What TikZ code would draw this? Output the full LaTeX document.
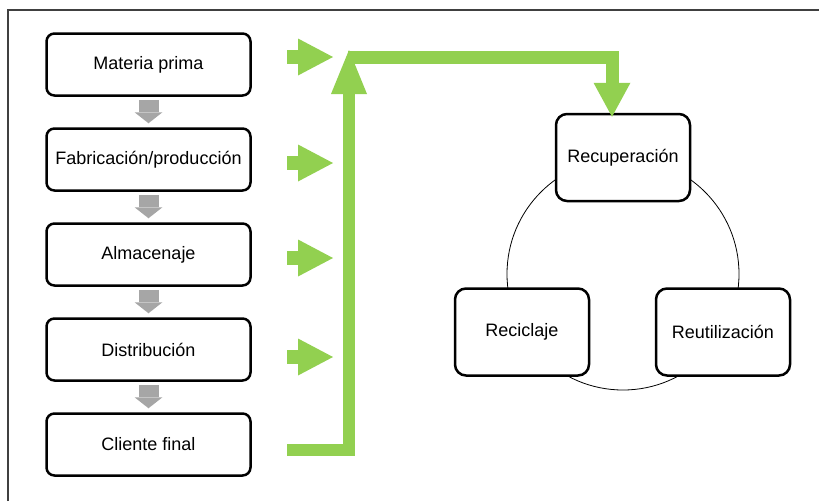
\documentclass[tikz,border=0pt]{standalone}
\usepackage{fontspec}
\setmainfont{Liberation Sans}
\usepackage{tikz}
\usetikzlibrary{positioning}
\usetikzlibrary{arrows.meta}

\definecolor{leafgreen}{HTML}{92D050}
\definecolor{stepgray}{HTML}{A6A6A6}
\definecolor{framegray}{HTML}{404040}

\tikzset{
  stage/.style={align=center,draw,fill=white,line width=2.5pt,rounded corners=8pt,minimum height=62pt,minimum width=204pt,font=\fontsize{18}{20}\selectfont},
  loopbox/.style={stage,rounded corners=11pt,minimum height=87pt,minimum width=134pt},
  downstep/.style={stepgray,line width=20pt,shorten <=3pt,shorten >=4pt,-{Triangle[length=11pt,width=28pt,line width=0pt]}},
  feedarrow/.style={leafgreen,line width=14pt,-{Triangle[length=35pt,width=37pt,line width=0pt]}},
  flowline/.style={leafgreen,line width=12pt,-{Triangle[length=44pt,width=36pt,line width=0pt]}}
}

\begin{document}
\begin{tikzpicture}[x=1pt,y=-1pt]
  \useasboundingbox (0,0) rectangle (819,501);
  \draw[framegray,line width=1.8pt] (8,501) |- (819,10);

  % ciclo
  \draw[line width=0.8pt] (623,274) circle[radius=116pt];

  \node at (148.5,64.5) [stage] (materia) {Materia prima};
  \node at (148.5,159.5) [stage] (fabrica) {Fabricación/producción};
  \node at (148.5,254.5) [stage] (almacen) {Almacenaje};
  \node at (148.5,349.5) [stage] (distrib) {Distribución};
  \node at (148.5,444.5) [stage] (cliente) {Cliente final};

  \node at (623,157.5) [loopbox] (recupera) {Recuperación};
  \node at (522,332) [loopbox] (recicla) {Reciclaje};
  \node at (723,332) [loopbox] (reutiliza) {Reutilización};

  \draw[downstep] (materia.south) -- (fabrica.north);
  \draw[downstep] (fabrica.south) -- (almacen.north);
  \draw[downstep] (almacen.south) -- (distrib.north);
  \draw[downstep] (distrib.south) -- (cliente.north);

  \coordinate (feedA) at (287,57);
  \coordinate (feedB) at (287,163);
  \coordinate (feedC) at (287,258);
  \coordinate (feedD) at (287,357);
  \coordinate (bend) at (349,450);
  \coordinate (top) at (349,50);
  \coordinate (corner) at (612,57.5);

  \draw[feedarrow] (feedA) -- ++(46,0);
  \draw[feedarrow] (feedB) -- ++(46,0);
  \draw[feedarrow] (feedC) -- ++(46,0);
  \draw[feedarrow] (feedD) -- ++(46,0);

  \draw[flowline] (287,450) -- (bend) -- (top);
  \draw[leafgreen,line width=13pt,-{Triangle[length=34pt,width=37pt,line width=0pt]}] (348,57.5) -- (corner) -- ([yshift=-4pt]recupera.north -| corner);
\end{tikzpicture}
\end{document}
